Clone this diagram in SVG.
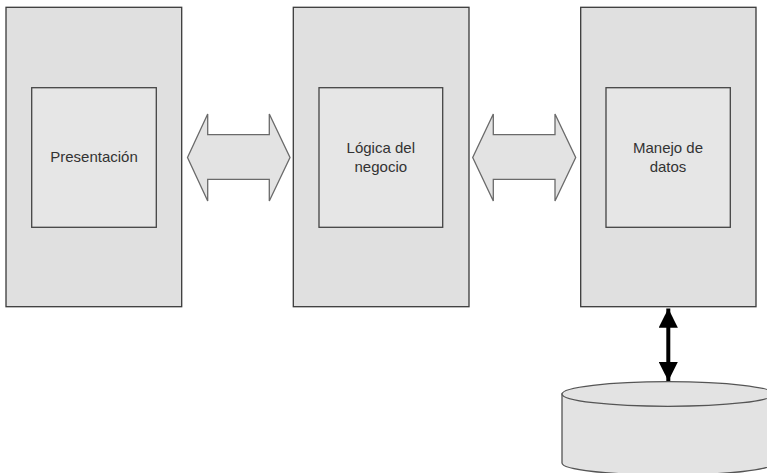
<svg xmlns="http://www.w3.org/2000/svg" width="767" height="473" viewBox="0 0 767 473">
  <style>
    .tier { fill: #e0e0e0; stroke: #3a3a3a; stroke-width: 1.3; }
    .inner { fill: #e6e6e6; stroke: #444444; stroke-width: 1.3; }
    .label { font-family: "Liberation Sans", Arial, sans-serif; font-size: 15px; fill: #333333; text-anchor: middle; }
    .block { fill: #e3e3e3; stroke: #6a6a6a; stroke-width: 1.3; stroke-linejoin: miter; }
    .db { fill: #e3e3e3; stroke: #555555; stroke-width: 1.3; }
  </style>
  <defs>
    <marker id="head" viewBox="0 0 10 10" refX="10" refY="5" markerWidth="4.8" markerHeight="4.8" orient="auto-start-reverse" markerUnits="strokeWidth">
      <path d="M0,0 L10,5 L0,10 z" fill="#000000"/>
    </marker>
  </defs>

  <rect width="767" height="473" fill="#ffffff"/>

  <g id="presentacion">
    <rect class="tier" x="6" y="7.3" width="175.7" height="299.4"/>
    <rect class="inner" x="31.7" y="87.7" width="124.6" height="139.6"/>
    <text class="label" x="94" y="162">Presentación</text>
  </g>

  <g id="logica">
    <rect class="tier" x="293.3" y="7.3" width="175.7" height="299.4"/>
    <rect class="inner" x="319" y="87.7" width="123.7" height="139.6"/>
    <text class="label" x="380.8" y="153">Lógica del</text>
    <text class="label" x="380.8" y="172">negocio</text>
  </g>

  <g id="datos">
    <rect class="tier" x="580.7" y="7.3" width="175.3" height="299.4"/>
    <rect class="inner" x="606" y="87.7" width="124.3" height="139.6"/>
    <text class="label" x="668" y="153">Manejo de</text>
    <text class="label" x="668" y="172">datos</text>
  </g>

  <g id="basedatos">
    <path class="db" d="M562,394 L562,463 A106,12 0 0 0 774,463 L774,394 Z"/>
    <ellipse class="db" cx="668" cy="394" rx="106" ry="12.3"/>
  </g>

  <g id="connectors">
    <path class="block" d="M187.5,157.5 L207.7,114 L207.7,134.7 L269.3,134.7 L269.3,114 L290,157.5 L269.3,201 L269.3,179.3 L207.7,179.3 L207.7,201 Z"/>
    <path class="block" d="M472.7,157.5 L493.3,114 L493.3,134.7 L555,134.7 L555,114 L575.7,157.5 L555,201 L555,179.3 L493.3,179.3 L493.3,201 Z"/>
    <line x1="668.3" y1="308.5" x2="668.3" y2="381" stroke="#000000" stroke-width="4" marker-start="url(#head)" marker-end="url(#head)"/>
  </g>
</svg>
